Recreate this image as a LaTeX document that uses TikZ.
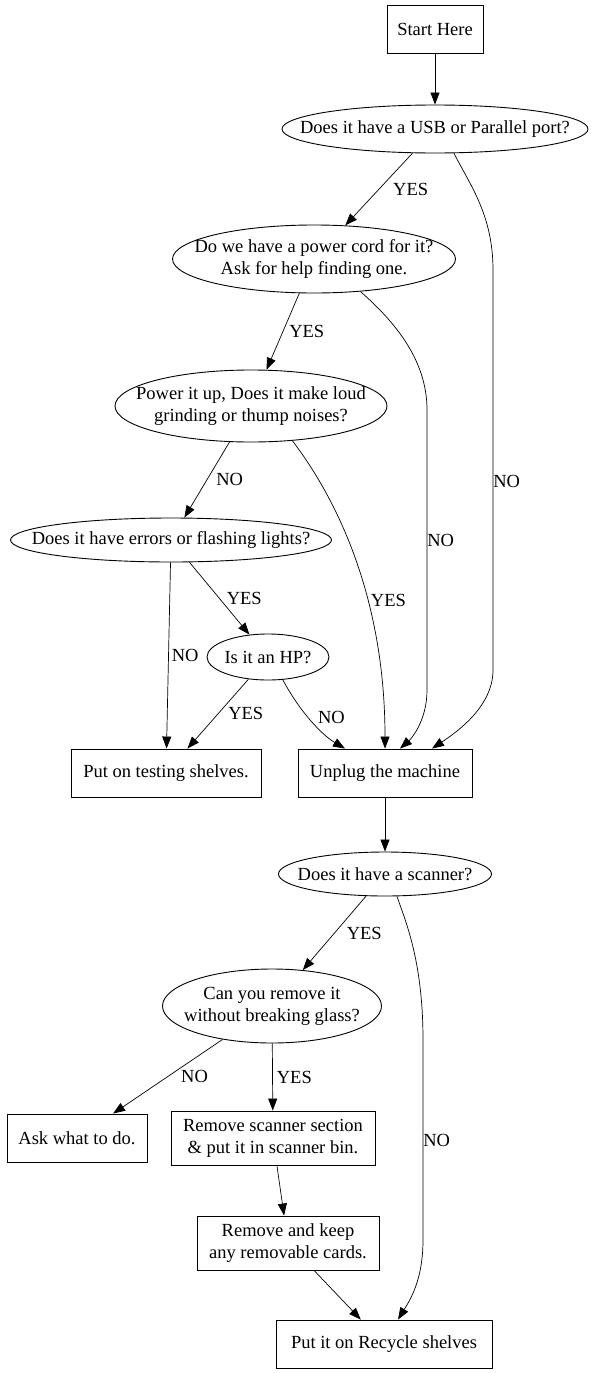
\documentclass[tikz,border=0pt]{standalone}
\usepackage{fontspec}
\setmainfont{Liberation Serif}
\usetikzlibrary{shapes.geometric, arrows.meta, positioning}
\newcommand{\gvfont}{\fontsize{18.5}{22}\selectfont}
\tikzstyle{decision} = [ellipse, draw=black, line width=0.9pt, inner xsep=-80pt, inner ysep=0pt, align=center, font=\gvfont]
\tikzstyle{action} = [rectangle, draw=black, line width=0.9pt, inner sep=0pt, align=center, font=\gvfont]
\tikzstyle{arrow} = [line width=0.7pt, -{Triangle[length=12pt, width=9pt]}]
\tikzstyle{lbl} = [right, inner sep=0pt, font=\gvfont]

\begin{document}
\begin{tikzpicture}[x=1pt, y=-1pt]
\useasboundingbox (0,0) rectangle (595,1373);

% Nodes, top to bottom
\node (start) [action, minimum width=96pt, minimum height=48pt] at (435,29) {Start Here};
\node (usb) [decision, minimum width=306pt, minimum height=48pt] at (435,129) {Does it have a USB or Parallel port?};
\node (cord) [decision, minimum width=283pt, minimum height=68pt] at (314,259) {Do we have a power cord for it?\\Ask for help finding one.};
\node (power) [decision, minimum width=272pt, minimum height=72pt] at (251,406) {Power it up, Does it make loud\\grinding or thump noises?};
\node (errors) [decision, minimum width=321pt, minimum height=44pt] at (171,540) {Does it have errors or flashing lights?};
\node (hp) [decision, minimum width=122pt, minimum height=46pt] at (268,657) {Is it an HP?};
\node (testing) [action, minimum width=190pt, minimum height=48pt] at (166,773) {Put on testing shelves.};
\node (unplug) [action, minimum width=174pt, minimum height=48pt] at (385,773) {Unplug the machine};
\node (scanner) [decision, minimum width=213pt, minimum height=44pt] at (385,874) {Does it have a scanner?};
\node (canrm) [decision, minimum width=219pt, minimum height=74pt] at (272,1006) {Can you remove it\\without breaking glass?};
\node (ask) [action, minimum width=140pt, minimum height=48pt] at (77,1138) {Ask what to do.};
\node (bin) [action, minimum width=204pt, minimum height=54pt] at (273,1138) {Remove scanner section\\\& put it in scanner bin.};
\node (cards) [action, minimum width=182pt, minimum height=54pt] at (288,1243) {Remove and keep\\any removable cards.};
\node (recycle) [action, minimum width=216pt, minimum height=48pt] at (384,1344) {Put it on Recycle shelves};

% Direct arrows
\draw [arrow] (start) -- (usb);
\draw [arrow] (usb) -- node[lbl, xshift=14pt] {YES} (cord);
\draw [arrow] (cord) -- node[lbl, xshift=6pt] {YES} (power);
\draw [arrow] (power) -- node[lbl, xshift=9pt] {NO} (errors);
\draw [arrow] (errors) -- node[lbl, xshift=7pt] {YES} (hp);
\draw [arrow] (errors) -- node[lbl, xshift=3pt] {NO} (testing);
\draw [arrow] (hp) -- node[lbl, xshift=10pt] {YES} (testing);
\draw [arrow] (hp.-57) .. controls (300,712) and (322,735) .. node[lbl, xshift=6pt, yshift=4pt] {NO} ([xshift=-40pt]unplug.north);
\draw [arrow] (unplug) -- (scanner);
\draw [arrow] (scanner) -- node[lbl, xshift=12pt] {YES} (canrm);
\draw [arrow] (canrm) -- node[lbl, xshift=13pt] {NO} (ask);
\draw [arrow] (canrm) -- node[lbl, xshift=4pt] {YES} (bin);
\draw [arrow] (bin) -- (cards);
\draw [arrow] (cards) -- (recycle);

% Long arrows down the right side
\draw [arrow] (usb.-52) .. controls (470,185) and (493,215) .. (493,270) -- node[lbl, yshift=-11pt] {NO} (493,670) .. controls (493,705) and (460,730) .. ([xshift=47pt]unplug.north);
\draw [arrow] (cord.-35) .. controls (395,322) and (427,360) .. (427,410) -- node[lbl, yshift=10pt] {NO} (427,690) .. controls (427,720) and (412,738) .. ([xshift=15pt]unplug.north);
\draw [arrow] (power.-40) .. controls (345,510) and (385,610) .. node[lbl, pos=0.6, xshift=3pt] {YES} (unplug.north);
\draw [arrow] ([xshift=12pt]scanner.south) .. controls (405,920) and (423,960) .. (423,1040) -- node[lbl] {NO} (423,1240) .. controls (423,1280) and (410,1300) .. ([xshift=14pt]recycle.north);

\end{tikzpicture}
\end{document}
